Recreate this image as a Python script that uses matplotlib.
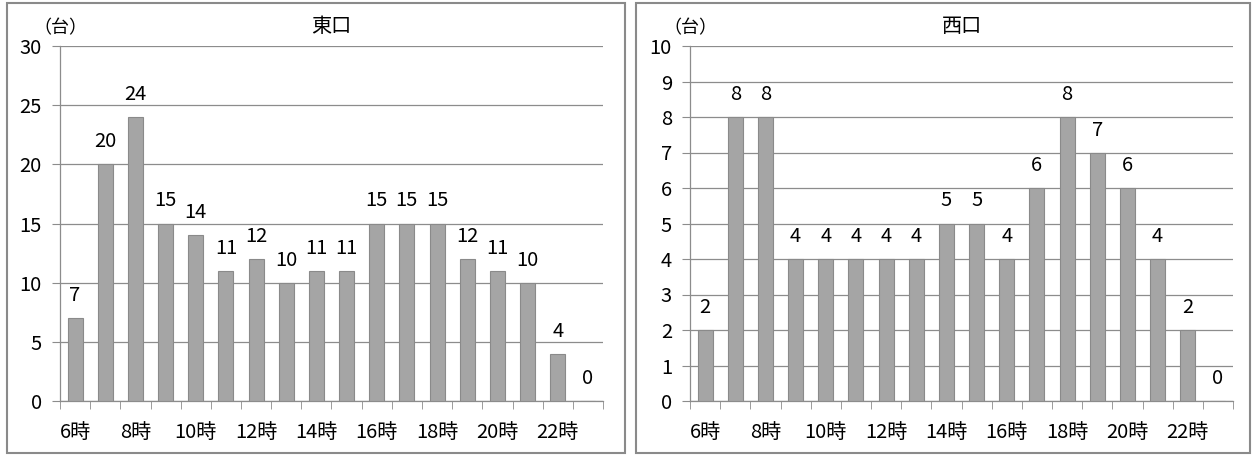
import matplotlib.pyplot as plt
from matplotlib.patches import Rectangle

plt.rcParams['font.family'] = ['Noto Sans CJK JP', 'DejaVu Sans']

hours = [f'{h}時' for h in range(6, 24)]
east = [7, 20, 24, 15, 14, 11, 12, 10, 11, 11, 15, 15, 15, 12, 11, 10, 4, 0]
west = [2, 8, 8, 4, 4, 4, 4, 4, 5, 5, 4, 6, 8, 7, 6, 4, 2, 0]

bar_color = '#a5a5a5'
edge_color = '#8a8a8a'
grid_color = '#8c8c8c'
fs = 14.5

fig = plt.figure(figsize=(12.53, 4.55), dpi=100)

# panel frames
for x0, x1 in [(7, 625), (636, 1250)]:
    fig.patches.append(Rectangle((x0 / 1253, 2 / 455), (x1 - x0) / 1253, 450 / 455,
                                 transform=fig.transFigure, fill=False,
                                 edgecolor='#8a8a8a', linewidth=1.5))


def draw_panel(left, values, title, ymax, step):
    ax = fig.add_axes([left / 1253, 1 - 401 / 455, 543 / 1253, 355 / 455])
    x = list(range(len(values)))
    ax.bar(x, values, width=0.5, color=bar_color, edgecolor=edge_color,
           linewidth=0.8, zorder=3)
    for xi, v in zip(x, values):
        ax.annotate(str(v), (xi, v), xytext=(0, 12), textcoords='offset pixels',
                    ha='center', va='bottom', fontsize=fs)

    ax.set_xlim(-0.5, len(values) - 0.5)
    ax.set_ylim(0, ymax)
    ax.set_yticks(range(0, ymax + 1, step))
    ax.yaxis.grid(True, color=grid_color, linewidth=0.9, zorder=0)

    # category labels every other hour, tick marks on category boundaries
    ax.set_xticks(x[::2])
    ax.set_xticklabels(hours[::2])
    ax.set_xticks([i - 0.5 for i in range(len(values) + 1)], minor=True)
    ax.tick_params(axis='x', which='major', length=0, pad=15, labelsize=fs)
    ax.tick_params(axis='x', which='minor', length=6, color=grid_color, direction='out')
    ax.tick_params(axis='y', length=6, color=grid_color, pad=7, labelsize=fs)

    for s in ['top', 'right']:
        ax.spines[s].set_visible(False)
    for s in ['left', 'bottom']:
        ax.spines[s].set_color(grid_color)
        ax.spines[s].set_linewidth(0.9)

    ax.text(0.5, 1.025, title, transform=ax.transAxes, ha='center', va='bottom',
            fontsize=fs)
    ax.text(-0.048, 1.025, '（台）', transform=ax.transAxes, ha='left', va='bottom',
            fontsize=13)
    return ax


draw_panel(60, east, '東口', 30, 5)
draw_panel(690, west, '西口', 10, 1)

fig.savefig('out.png', dpi=100)
